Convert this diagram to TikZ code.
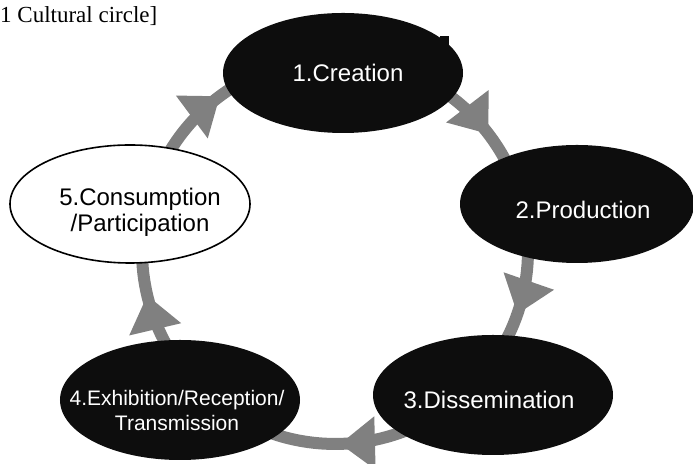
\documentclass[tikz,border=0pt]{standalone}
\usepackage{fontspec}
\setmainfont{Liberation Sans}
\newfontfamily\titleserif{Liberation Serif}
\usetikzlibrary{shapes.geometric,arrows.meta,decorations.markings,backgrounds,calc}
\definecolor{nodeblack}{HTML}{0D0D0D}
\definecolor{ringgray}{HTML}{808080}
\tikzset{
  blackell/.style={ellipse, fill=nodeblack, draw=none, minimum width=240bp, minimum height=120bp, inner sep=0pt},
  whiteell/.style={ellipse, fill=white, draw=black, line width=1.6bp, minimum width=240bp, minimum height=118bp, inner sep=0pt},
  wlabel/.style={text=white, font=\fontsize{24bp}{28bp}\selectfont, inner sep=0pt, align=center},
  smalllabel/.style={text=white, font=\fontsize{21bp}{25bp}\selectfont, inner sep=0pt, align=center},
  blabel/.style={text=black, font=\fontsize{24bp}{26bp}\selectfont, inner sep=0pt, align=center},
  ring/.style={color=ringgray, line width=12bp},
  midarrow/.style={postaction={decorate}, decoration={markings, mark=at position #1 with {\arrow{Triangle[width=51bp,length=35bp]}}}},
}
\begin{document}
\begin{tikzpicture}[x=1bp,y=1bp]
\useasboundingbox (0,0) rectangle (693,464);
% title
\node[anchor=base west, inner sep=0pt, font=\titleserif\fontsize{23bp}{27bp}\selectfont] (title) at (0,441.3) {1 Cultural circle]};
% stages
\node[blackell] (n1) at (343,391) {};
\node[blackell, minimum width=234bp, minimum height=118bp] (n2) at (577,260) {};
\node[blackell] (n3) at (493,69) {};
\node[blackell] (n4) at (180,64) {};
\node[whiteell] (n5) at (130,260) {};
\fill[nodeblack] (440,414) rectangle (449,428);
\node[wlabel] (l1) at (348,391) {1.Creation};
\node[wlabel] (l2) at (583,254) {2.Production};
\node[wlabel] (l3) at (489,64) {3.Dissemination};
\node[smalllabel] (l4) at (177,53.5) {4.Exhibition/Reception/\\Transmission};
\node[blabel] (l5) at (140,251.7) {5.Consumption\\/Participation};
% ring
\coordinate (O) at (335,213);
\coordinate (r1) at ($(O)!193bp!(n1)$);
\coordinate (r2) at ($(O)!193bp!(n2)$);
\coordinate (r3) at ($(O)!193bp!(n3)$);
\coordinate (r4) at ($(O)!193bp!(n4)$);
\coordinate (r5) at ($(O)!193bp!(n5)$);
\begin{pgfonlayer}{background}
\draw[ring, midarrow=0.656] (r1) to[out=-2.6, in=101, looseness=0.954] (r2);
\draw[ring, midarrow=0.564] (r2) to[out=-79, in=47.7, looseness=0.899] (r3);
\draw[ring, midarrow=0.4925] (r3) to[out=-132.3, in=-46.1, looseness=1.011] (r4);
\draw[ring, midarrow=0.539] (r4) to[out=133.9, in=-102.9, looseness=0.906] (r5);
\draw[ring, midarrow=0.508] (r5) to[out=77.1, in=177.4, looseness=0.963] (r1);
\end{pgfonlayer}
\end{tikzpicture}
\end{document}
